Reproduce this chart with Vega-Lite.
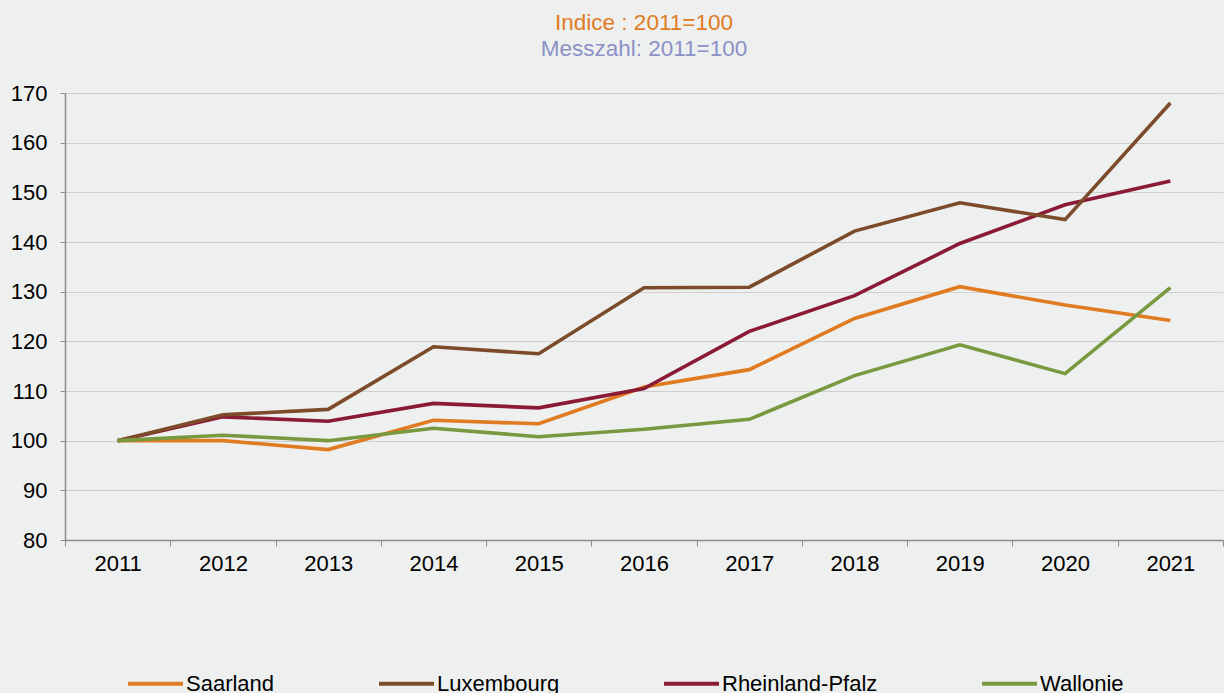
{
  "$schema": "https://vega.github.io/schema/vega-lite/v6.json",
  "width": 1158,
  "height": 447,
  "autosize": {"type": "none"},
  "padding": {"left": 65, "top": 93, "right": 1, "bottom": 153},
  "background": "#EEF0EF",
  "config": {
    "view": {"stroke": null},
    "font": "Liberation Sans"
  },
  "title": {
    "text": "Indice : 2011=100",
    "subtitle": "Messzahl: 2011=100",
    "color": "#E07B22",
    "subtitleColor": "#8B90C6",
    "fontSize": 22.5,
    "subtitleFontSize": 22.5,
    "font": "Liberation Sans",
    "subtitleFont": "Liberation Sans",
    "fontWeight": "normal",
    "anchor": "middle",
    "offset": 22,
    "subtitlePadding": 3
  },
  "datasets": {
    "d": [
      {"year": "2011", "region": "Saarland", "value": 100},
      {"year": "2012", "region": "Saarland", "value": 100},
      {"year": "2013", "region": "Saarland", "value": 98.2},
      {"year": "2014", "region": "Saarland", "value": 104.1},
      {"year": "2015", "region": "Saarland", "value": 103.4},
      {"year": "2016", "region": "Saarland", "value": 110.8},
      {"year": "2017", "region": "Saarland", "value": 114.3},
      {"year": "2018", "region": "Saarland", "value": 124.6},
      {"year": "2019", "region": "Saarland", "value": 131.0},
      {"year": "2020", "region": "Saarland", "value": 127.3},
      {"year": "2021", "region": "Saarland", "value": 124.2},
      {"year": "2011", "region": "Rheinland-Pfalz", "value": 100},
      {"year": "2012", "region": "Rheinland-Pfalz", "value": 104.8},
      {"year": "2013", "region": "Rheinland-Pfalz", "value": 103.9},
      {"year": "2014", "region": "Rheinland-Pfalz", "value": 107.5},
      {"year": "2015", "region": "Rheinland-Pfalz", "value": 106.6},
      {"year": "2016", "region": "Rheinland-Pfalz", "value": 110.5},
      {"year": "2017", "region": "Rheinland-Pfalz", "value": 122.0},
      {"year": "2018", "region": "Rheinland-Pfalz", "value": 129.2},
      {"year": "2019", "region": "Rheinland-Pfalz", "value": 139.7},
      {"year": "2020", "region": "Rheinland-Pfalz", "value": 147.5},
      {"year": "2021", "region": "Rheinland-Pfalz", "value": 152.3},
      {"year": "2011", "region": "Luxembourg", "value": 100},
      {"year": "2012", "region": "Luxembourg", "value": 105.2},
      {"year": "2013", "region": "Luxembourg", "value": 106.3},
      {"year": "2014", "region": "Luxembourg", "value": 118.9},
      {"year": "2015", "region": "Luxembourg", "value": 117.5},
      {"year": "2016", "region": "Luxembourg", "value": 130.8},
      {"year": "2017", "region": "Luxembourg", "value": 130.9},
      {"year": "2018", "region": "Luxembourg", "value": 142.2},
      {"year": "2019", "region": "Luxembourg", "value": 147.9},
      {"year": "2020", "region": "Luxembourg", "value": 144.5},
      {"year": "2021", "region": "Luxembourg", "value": 168.0},
      {"year": "2011", "region": "Wallonie", "value": 100},
      {"year": "2012", "region": "Wallonie", "value": 101.1},
      {"year": "2013", "region": "Wallonie", "value": 100.0},
      {"year": "2014", "region": "Wallonie", "value": 102.5},
      {"year": "2015", "region": "Wallonie", "value": 100.8},
      {"year": "2016", "region": "Wallonie", "value": 102.3},
      {"year": "2017", "region": "Wallonie", "value": 104.3},
      {"year": "2018", "region": "Wallonie", "value": 113.1},
      {"year": "2019", "region": "Wallonie", "value": 119.3},
      {"year": "2020", "region": "Wallonie", "value": 113.5},
      {"year": "2021", "region": "Wallonie", "value": 130.8}
    ]
  },
  "data": {"name": "d"},
  "mark": {"type": "line", "strokeWidth": 3.6, "strokeJoin": "miter"},
  "encoding": {
    "x": {
      "field": "year",
      "type": "ordinal",
      "bandPosition": 0.5,
      "scale": {"type": "band", "paddingInner": 0, "paddingOuter": 0},
      "axis": {
        "title": null,
        "tickBand": "extent",
        "labelAngle": 0,
        "labelFontSize": 22,
        "labelColor": "#000000",
        "labelPadding": 7,
        "domainColor": "#8C8C8C",
        "domainWidth": 1.5,
        "tickColor": "#8C8C8C",
        "tickSize": 6,
        "tickWidth": 1,
        "grid": false
      }
    },
    "y": {
      "field": "value",
      "type": "quantitative",
      "scale": {"domain": [80, 170], "nice": false, "zero": false},
      "axis": {
        "title": null,
        "values": [80, 90, 100, 110, 120, 130, 140, 150, 160, 170],
        "labelFontSize": 22,
        "labelColor": "#000000",
        "labelPadding": 13,
        "domainColor": "#8C8C8C",
        "domainWidth": 1.5,
        "tickColor": "#8C8C8C",
        "tickSize": 5,
        "grid": true,
        "gridColor": "#CFCFCF",
        "gridWidth": 1
      }
    },
    "color": {
      "field": "region",
      "type": "nominal",
      "scale": {
        "domain": ["Saarland", "Luxembourg", "Rheinland-Pfalz", "Wallonie"],
        "range": ["#E07B22", "#7B4B2A", "#8B1A36", "#78993F"]
      },
      "legend": {
        "title": null,
        "orient": "none",
        "direction": "horizontal",
        "legendX": 61,
        "legendY": 561,
        "symbolType": "stroke",
        "symbolSize": 3025,
        "symbolStrokeWidth": 4,
        "labelFontSize": 22,
        "labelColor": "#000000",
        "labelOffset": 1,
        "columnPadding": 96
      }
    },
    "order": {"field": "region"}
  }
}
